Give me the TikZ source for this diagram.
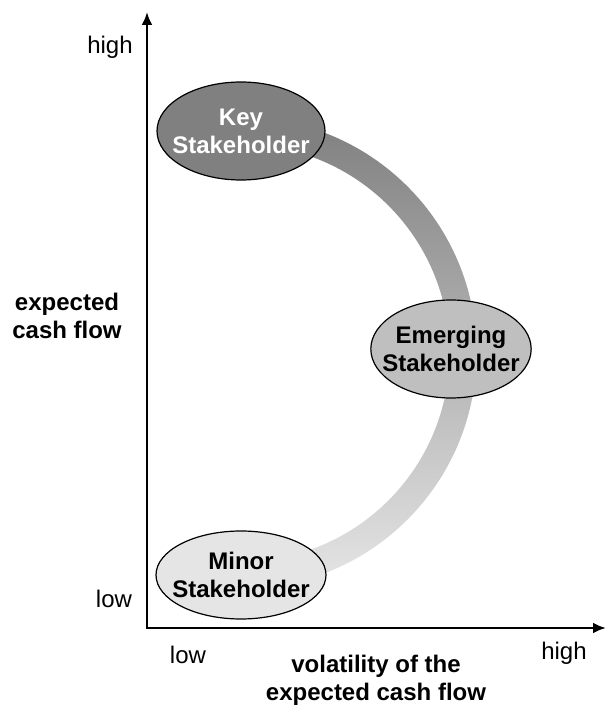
\documentclass[tikz,border=0pt]{standalone}
\usepackage{fontspec}
\setmainfont{Liberation Sans}
\usepackage{tikz}
\usetikzlibrary{shapes.geometric, arrows.meta, positioning, backgrounds, calc}
\tikzstyle{axis} = [line width=2.6pt, {Latex[length=13pt,width=11pt]}-{Latex[length=13pt,width=11pt]}]
\tikzstyle{stakeholder} = [ellipse, draw=black, line width=1.2pt, inner xsep=-12pt, inner ysep=0pt, align=center, font=\bfseries]
\tikzstyle{title} = [align=center, font=\bfseries]

\begin{document}
\fontsize{24}{28}\selectfont
\begin{tikzpicture}[x=1pt, y=1pt]
  \useasboundingbox (0,0) rectangle (606,705);

  % Axes
  \coordinate (origin) at (147,77);
  \coordinate (ytip) at (147,693);
  \coordinate (xtip) at (606,77);
  \draw[axis] (ytip) -- (origin) -- (xtip);

  \node (yhigh) at (110,658) {high};
  \node (ylow) at (114,106) {low};
  \node[title] (ytitle) at (67,389) {expected\\cash flow};

  \node (xlow) at (188,50) {low};
  \node (xhigh) at (564,52) {high};
  \node[title] (xtitle) at (376,25) {volatility of the\\expected cash flow};

  % Stakeholders
  \node[stakeholder, fill=black!50, text=white, minimum width=168pt, minimum height=98pt] (key) at (241,574) {Key\\Stakeholder};
  \node[stakeholder, fill=black!25, minimum width=158pt, minimum height=98pt] (emerging) at (451,356) {Emerging\\Stakeholder};
  \node[stakeholder, fill=black!10, minimum width=170pt, minimum height=88pt] (minor) at (241,130) {Minor\\Stakeholder};

  % Band from key to minor
  \begin{scope}[on background layer]
    \shade[top color=black!50, bottom color=black!10]
      ($(key.center)+(0,13.5)$) arc[start angle=90, end angle=-90, radius=235.5]
      -- ++(0,27) arc[start angle=-90, end angle=90, radius=208.5] -- cycle;
  \end{scope}

\end{tikzpicture}
\end{document}
